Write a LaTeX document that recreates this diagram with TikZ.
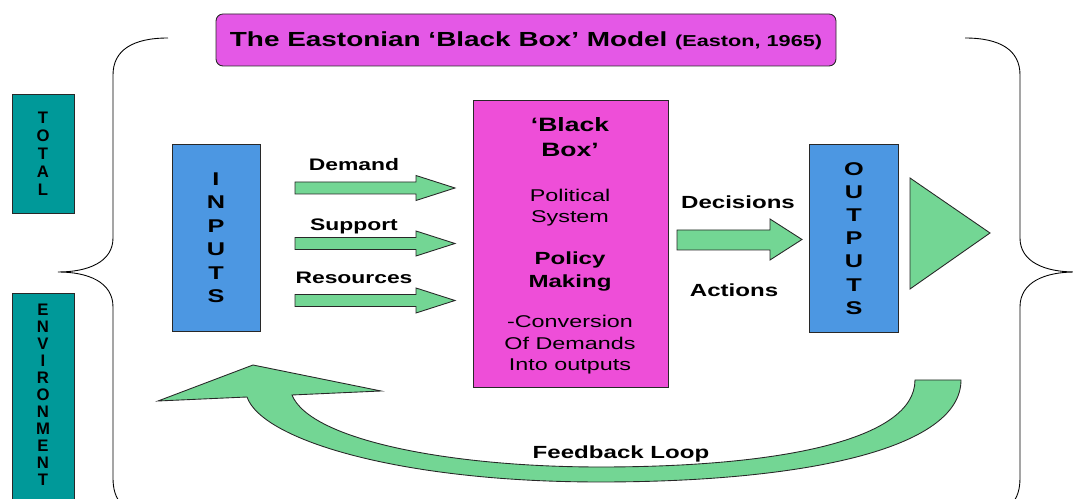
\documentclass[tikz,border=0pt]{standalone}
\usepackage{fontspec}
\setmainfont[FakeStretch=1.37]{Liberation Sans}
\newfontfamily\plainsans{Liberation Sans}

\definecolor{titlepink}{RGB}{228,88,230}
\definecolor{boxpink}{RGB}{238,78,216}
\definecolor{boxblue}{RGB}{76,151,226}
\definecolor{envteal}{RGB}{0,153,153}
\definecolor{arrowgreen}{RGB}{115,214,148}
\definecolor{edge}{RGB}{40,40,40}

\tikzset{
  fatarrow/.style={draw=edge, fill=arrowgreen},
  sideltr/.style={font=\plainsans\bfseries\fontsize{9.5}{11}\selectfont, inner sep=0pt},
  boxltr/.style={font=\bfseries\fontsize{10.5}{12}\selectfont, inner sep=0pt},
  lbl/.style={font=\bfseries\fontsize{9.5}{11}\selectfont, inner sep=0pt, anchor=base},
  lbltwo/.style={font=\bfseries\fontsize{10}{12}\selectfont, inner sep=0pt, anchor=base},
  bbbold/.style={font=\bfseries\fontsize{#1}{12}\selectfont, inner sep=0pt, anchor=base},
  bbtext/.style={font=\fontsize{9.7}{12}\selectfont, inner sep=0pt, anchor=base}
}

\begin{document}
\begin{tikzpicture}[x=0.02cm,y=-0.02cm,line width=0.5pt]
\useasboundingbox (0,0) rectangle (1073,499);

% braces
\draw (168,38) .. controls (133,38) and (113,50) .. (113,75) -- (113,238)
  .. controls (113,262) and (88,272) .. (58,272) .. controls (88,272) and (113,282) .. (113,307)
  -- (113,478) .. controls (113,500) and (123,512) .. (148,514);
\draw (965,38) .. controls (1000,38) and (1020,50) .. (1020,75) -- (1020,238)
  .. controls (1020,262) and (1045,272) .. (1075,272) .. controls (1045,272) and (1020,282) .. (1020,307)
  -- (1020,478) .. controls (1020,500) and (1010,512) .. (985,514);

% title
\draw [draw=edge, fill=titlepink, rounded corners=4pt] (216,14) rectangle (836,66);
\node (title) [anchor=base, inner sep=0pt, font=\bfseries] at (526,47)
  {\fontsize{11.6}{14}\selectfont The Eastonian ‘Black Box’ Model \fontsize{9}{11}\selectfont(Easton, 1965)};

% total environment
\draw [draw=edge, fill=envteal] (12,94) rectangle (74,213);
\draw [draw=edge, fill=envteal] (12,293) rectangle (74,520);
\foreach \l [count=\i] in {T,O,T,A,L} {
\node (tot-\i) [sideltr] at (43,{117.5+18.1*(\i-1)}) {\l};}
\foreach \l [count=\i] in {E,N,V,I,R,O,N,M,E,N,T} {
\node (env-\i) [sideltr] at (43,{310+17*(\i-1)}) {\l};}

% inputs
\draw [draw=edge, fill=boxblue] (172,144) rectangle (260,331);
\foreach \l [count=\i] in {I,N,P,U,T,S} {
\node (in-\i) [boxltr] at (216,{178.7+23.5*(\i-1)}) {\l};}

\foreach \c/\b/\t in {188/171/Demand,243.5/231/Support,300.5/284/Resources} {
\draw [fatarrow] (295,\c-6) -- (416,\c-6) -- (416,\c-12.5) -- (455,\c)
  -- (416,\c+12.5) -- (416,\c+6) -- (295,\c+6) -- cycle;
\node (lbl-\t) [lbl] at (354,\b) {\t};}

% black box
\draw [draw=edge, fill=boxpink] (473,100) rectangle (668,387);
\foreach \y/\t in {132/‘Black,157/Box’} {
\node (bb-\y) [bbbold=11] at (570,\y) {\t};}
\foreach \y/\t in {265/Policy,288/Making} {
\node (bb-\y) [bbbold=10] at (570,\y) {\t};}
\foreach \y/\t in {202/Political,223/System,328/-Conversion,350/Of Demands,371/Into outputs} {
\node (bb-\y) [bbtext] at (570,\y) {\t};}

% outputs
\draw [fatarrow] (677,230) -- (770,230) -- (770,219) -- (802,239.5) -- (770,260) -- (770,250) -- (677,250) -- cycle;
\node (decisions) [lbltwo] at (738,209) {Decisions};
\node (actions) [lbltwo] at (734,297) {Actions};
\draw [draw=edge, fill=boxblue] (809,144) rectangle (898,332);
\foreach \l [count=\i] in {O,U,T,P,U,T,S} {
\node (out-\i) [boxltr] at (854,{168.7+23.2*(\i-1)}) {\l};}
\draw [fatarrow] (910,178) -- (990,233) -- (910,289) -- cycle;

% feedback
\draw [fatarrow] (961,380) .. controls (961,450) and (800,482) .. (600,482)
  .. controls (400,482) and (262,440) .. (247,397) -- (158,401) -- (253,365) -- (381,391) -- (292,395)
  .. controls (310,440) and (450,467) .. (600,467) .. controls (780,467) and (915,440) .. (915,380) -- cycle;
\node (feedback) [lbltwo] at (621,459) {Feedback Loop};
\end{tikzpicture}
\end{document}
